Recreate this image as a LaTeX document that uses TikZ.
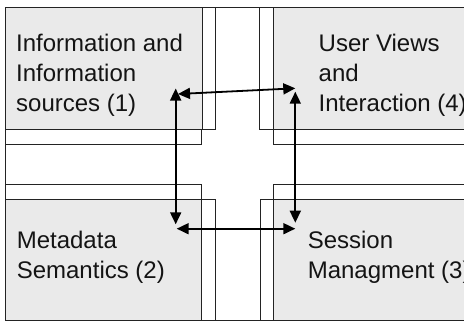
\documentclass[tikz,border=0pt]{standalone}
\usepackage{fontspec}
\setmainfont{Liberation Sans}
\usetikzlibrary{arrows.meta}
\definecolor{boxgray}{RGB}{234,234,234}
\definecolor{edge}{RGB}{35,35,35}
\definecolor{ink}{RGB}{20,20,20}
\begin{document}
\begin{tikzpicture}[x=1pt,y=-1pt,
  panel/.style={draw=edge, line width=1pt, fill=boxgray, inner sep=0pt, anchor=north west},
  tab/.style={draw=edge, line width=1pt, fill=white},
  label/.style={anchor=north west, inner sep=0pt, align=left, text=ink,
                font=\fontsize{24}{30}\selectfont},
  link/.style={line width=1.8pt, draw=black,
               {Triangle[length=12pt,width=11pt]}-{Triangle[length=12pt,width=11pt]}}]
\useasboundingbox (0,0) rectangle (464,322);
\clip (0,0) rectangle (464,322);
\fill[white] (0,0) rectangle (464,322);

% offset tabs behind each panel, reaching towards the centre
\draw[tab] (5,7) rectangle (215.3,129.3);
\draw[tab] (5,7) rectangle (201.7,144);
\draw[tab] (259.3,7) rectangle (475,129.3);
\draw[tab] (273.3,7) rectangle (475,144);
\draw[tab] (5,184.7) rectangle (201,320);
\draw[tab] (5,199.3) rectangle (215.3,320);
\draw[tab] (273.3,184.7) rectangle (475,320);
\draw[tab] (260.7,199.3) rectangle (475,320);

% the four panels
\node[panel, minimum width=196.7pt, minimum height=122.3pt] (info) at (5,7) {};
\node[panel, minimum width=202pt, minimum height=122.3pt] (views) at (273.3,7) {};
\node[panel, minimum width=196pt, minimum height=120.7pt] (meta) at (5,199.3) {};
\node[panel, minimum width=202pt, minimum height=120.7pt] (session) at (273.3,199.3) {};

% outer frame
\draw[edge, line width=1pt] (475,7) -- (5,7) -- (5,320) -- (475,320);

% panel texts
\node[label] (infotext) at (16,34.3) {Information and\\Information\\sources (1)};
\node[label] (viewstext) at (318.5,34.3) {User Views\\and\\Interaction (4)};
\node[label] (metatext) at (16.6,231.3) {Metadata\\Semantics (2)};
\node[label] (sessiontext) at (307.6,231.3) {Session\\Managment (3)};

% arrow end points
\coordinate (a1) at (178,94);
\coordinate (a2) at (295.3,88.3);
\coordinate (b1) at (175.7,88.5);
\coordinate (b2) at (175.7,224.3);
\coordinate (c1) at (295.3,91.7);
\coordinate (c2) at (295.3,222.7);
\coordinate (d1) at (176.7,228.7);
\coordinate (d2) at (295.3,228.7);

\draw[link] (a1) -- (a2);
\draw[link] (b1) -- (b2);
\draw[link] (c1) -- (c2);
\draw[link] (d1) -- (d2);
\end{tikzpicture}
\end{document}
